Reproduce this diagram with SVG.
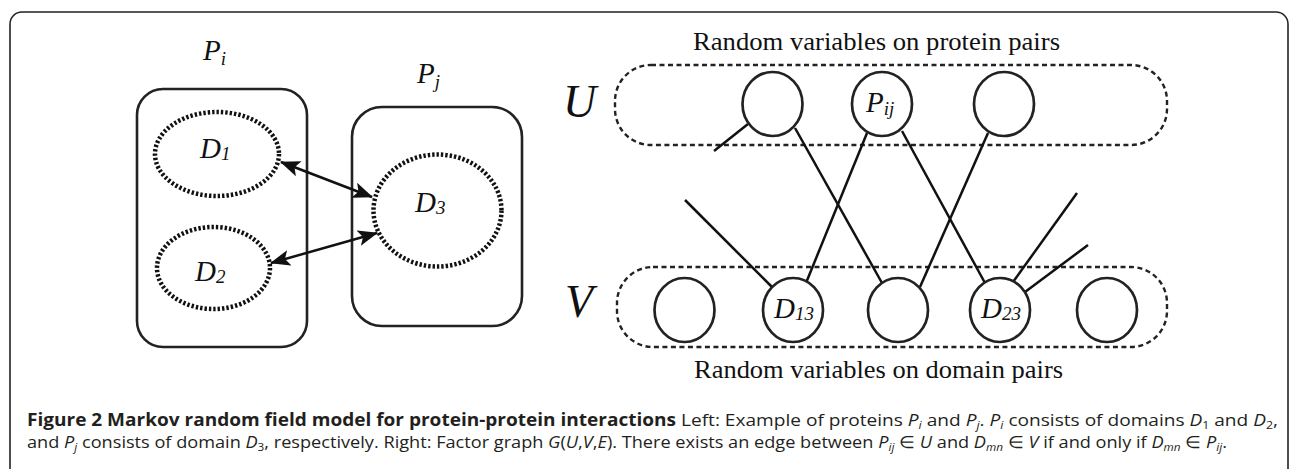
<svg xmlns="http://www.w3.org/2000/svg" width="1290" height="469" viewBox="0 0 1290 469">
<style>
.box{fill:none;stroke:#222;stroke-width:2.6}
.dot{fill:none;stroke:#111;stroke-width:4.5;stroke-dasharray:2.4 2}
.dash{fill:none;stroke:#222;stroke-width:2.4;stroke-dasharray:5 3.5}
.node{fill:#fff;stroke:#222;stroke-width:2.7}
.edge{stroke:#111;stroke-width:2.5;fill:none}
.lab{font-family:"Liberation Serif",serif;font-style:italic;font-size:29px;fill:#111}
.sub{font-size:19px}
.big{font-family:"Liberation Serif",serif;font-style:italic;font-size:46px;fill:#111}
.title{font-family:"Liberation Serif",serif;font-size:26px;fill:#111}
.cap{font-family:"Open Sans","Noto Sans",sans-serif;font-size:17px;fill:#231f20}
.it{font-style:italic}
.cs{font-size:11px}
</style>
<defs>
<marker id="ah" viewBox="0 0 20 16" refX="19" refY="8" markerWidth="20" markerHeight="16" markerUnits="userSpaceOnUse" orient="auto-start-reverse">
<path d="M0,0 L20,8 L0,16 L4.5,8 z" fill="#111"/>
</marker>
</defs>
<rect x="10" y="12" width="1278" height="480" rx="12" fill="none" stroke="#222" stroke-width="1.6"/>

<g id="Pi">
<rect class="box" x="137" y="89" width="170" height="258" rx="26"/>
<text class="lab" x="203" y="60">P<tspan class="sub" dy="5">i</tspan></text>
</g>
<g id="D1">
<ellipse class="dot" cx="217" cy="154" rx="62" ry="42"/>
<text class="lab" x="200" y="158">D<tspan class="sub" dy="2">1</tspan></text>
</g>
<g id="D2">
<ellipse class="dot" cx="213.5" cy="268" rx="56.5" ry="41"/>
<text class="lab" x="195" y="281">D<tspan class="sub" dy="2">2</tspan></text>
</g>
<g id="Pj">
<rect class="box" x="352" y="107" width="170" height="219" rx="30"/>
<text class="lab" x="417" y="83">P<tspan class="sub" dy="5">j</tspan></text>
</g>
<g id="D3">
<ellipse class="dot" cx="437.5" cy="210.5" rx="64" ry="56"/>
<text class="lab" x="415" y="212">D<tspan class="sub" dy="2">3</tspan></text>
</g>

<g id="U">
<rect class="dash" x="615" y="65" width="552" height="80" rx="36"/>
<text class="big" x="563" y="117">U</text>
<text class="title" x="693" y="50" textLength="367" lengthAdjust="spacingAndGlyphs">Random variables on protein pairs</text>
</g>
<g id="V">
<rect class="dash" x="617" y="267" width="550" height="80" rx="36"/>
<text class="big" x="565" y="317">V</text>
<text class="title" x="694" y="378" textLength="369" lengthAdjust="spacingAndGlyphs">Random variables on domain pairs</text>
</g>

<g id="connectors">
<line class="edge" x1="281" y1="162" x2="372" y2="197" marker-start="url(#ah)" marker-end="url(#ah)"/>
<line class="edge" x1="271" y1="263" x2="377" y2="233" marker-start="url(#ah)" marker-end="url(#ah)"/>
<line class="edge" x1="748" y1="124" x2="714" y2="151"/>
<line class="edge" x1="795" y1="128" x2="882" y2="283"/>
<line class="edge" x1="867" y1="133" x2="806" y2="283"/>
<line class="edge" x1="902" y1="131" x2="985" y2="283"/>
<line class="edge" x1="988" y1="133" x2="920" y2="287"/>
<line class="edge" x1="685" y1="200" x2="772" y2="287"/>
<line class="edge" x1="1013" y1="282" x2="1077" y2="193"/>
<line class="edge" x1="1025" y1="292" x2="1088" y2="245"/>
</g>

<g id="U1"><ellipse class="node" cx="772.5" cy="104" rx="30" ry="32"/></g>
<g id="Pij"><ellipse class="node" cx="882" cy="104" rx="30" ry="32"/>
<text class="lab" x="866" y="112">P<tspan class="sub" font-size="15" dy="3">ij</tspan></text></g>
<g id="U3"><ellipse class="node" cx="1004" cy="104" rx="30" ry="32"/></g>

<g id="V1"><ellipse class="node" cx="684.5" cy="310" rx="30" ry="32"/></g>
<g id="D13"><ellipse class="node" cx="793" cy="310" rx="30" ry="32"/>
<text class="lab" x="774" y="318">D<tspan class="sub" dy="2">13</tspan></text></g>
<g id="V3"><ellipse class="node" cx="898" cy="310" rx="30" ry="32"/></g>
<g id="D23"><ellipse class="node" cx="1000" cy="310" rx="30" ry="32"/>
<text class="lab" x="981" y="318">D<tspan class="sub" dy="2">23</tspan></text></g>
<g id="V5"><ellipse class="node" cx="1107" cy="310" rx="30" ry="32"/></g>

<g id="caption">
<text class="cap" x="27" y="426" font-weight="bold" textLength="649" lengthAdjust="spacingAndGlyphs">Figure 2 Markov random field model for protein-protein interactions</text>
<text class="cap" x="681" y="426" textLength="597" lengthAdjust="spacingAndGlyphs">Left: Example of proteins <tspan class="it">P</tspan><tspan class="it cs" dy="2.5">i</tspan><tspan dy="-2.5"> and </tspan><tspan class="it">P</tspan><tspan class="it cs" dy="2.5">j</tspan><tspan dy="-2.5">. </tspan><tspan class="it">P</tspan><tspan class="it cs" dy="2.5">i</tspan><tspan dy="-2.5"> consists of domains </tspan><tspan class="it">D</tspan><tspan class="cs" dy="2.5">1</tspan><tspan dy="-2.5"> and </tspan><tspan class="it">D</tspan><tspan class="cs" dy="2.5">2</tspan><tspan dy="-2.5">,</tspan></text>
<text class="cap" x="27" y="448" textLength="1200" lengthAdjust="spacingAndGlyphs">and <tspan class="it">P</tspan><tspan class="it cs" dy="3">j</tspan><tspan dy="-3"> consists of domain </tspan><tspan class="it">D</tspan><tspan class="cs" dy="3">3</tspan><tspan dy="-3">, respectively. Right: Factor graph </tspan><tspan class="it">G</tspan>(<tspan class="it">U</tspan>,<tspan class="it">V</tspan>,<tspan class="it">E</tspan>). There exists an edge between <tspan class="it">P</tspan><tspan class="it cs" dy="3">ij</tspan><tspan dy="-3"> ∈ </tspan><tspan class="it">U</tspan> and <tspan class="it">D</tspan><tspan class="it cs" dy="3">mn</tspan><tspan dy="-3"> ∈ </tspan><tspan class="it">V</tspan> if and only if <tspan class="it">D</tspan><tspan class="it cs" dy="3">mn</tspan><tspan dy="-3"> ∈ </tspan><tspan class="it">P</tspan><tspan class="it cs" dy="3">ij</tspan><tspan dy="-3">.</tspan></text>
</g>
</svg>
